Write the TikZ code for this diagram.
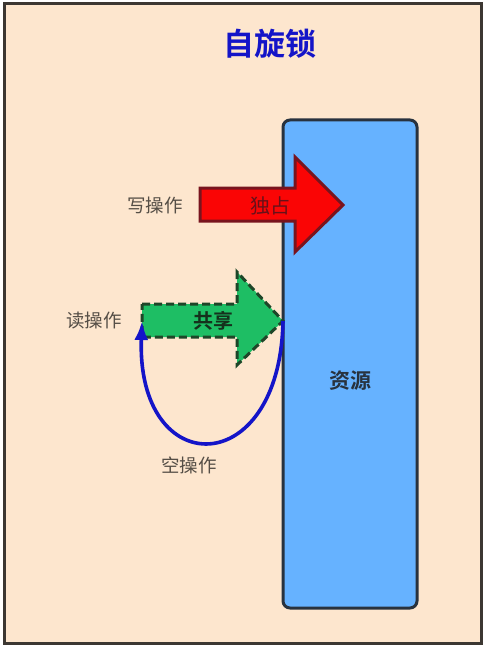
\documentclass[tikz,border=0pt]{standalone}
\usepackage{fontspec}
\newfontfamily\cjk{Noto Sans CJK SC}[BoldFont={Noto Sans CJK SC Bold}]
\usepackage{tikz}
\usetikzlibrary{arrows.meta,positioning,calc}
\definecolor{bgpeach}{RGB}{253,230,206}
\definecolor{framegrey}{RGB}{60,55,50}
\definecolor{resblue}{RGB}{102,178,255}
\definecolor{resedge}{RGB}{40,50,62}
\definecolor{lockred}{RGB}{250,5,5}
\definecolor{redge}{RGB}{120,20,30}
\definecolor{sharegreen}{RGB}{30,190,100}
\definecolor{gedge}{RGB}{30,70,40}
\definecolor{loopblue}{RGB}{20,20,200}
\definecolor{opgrey}{RGB}{85,78,70}

\begin{document}
\begin{tikzpicture}[x=1pt, y=-1pt, every node/.style={font=\cjk\fontsize{18.5}{18.5}\selectfont, inner sep=0pt},
  oplabel/.style={text=opgrey},
  fatarrow/.style={line width=3pt, line join=miter}]
\useasboundingbox (0,0) rectangle (484,647);
% background and frame
\draw[fill=bgpeach, draw=framegrey, line width=3pt] (4,4) rectangle (481,643);
\node[text=loopblue, font=\cjk\bfseries\fontsize{31}{31}\selectfont] (title) at (270,44) {自旋锁};

% resource
\node[draw=resedge, fill=resblue, line width=3pt, rounded corners=7pt, minimum width=134pt, minimum height=488pt] (res) at (350,364) {};
\node[text=resedge, font=\cjk\bfseries\fontsize{21}{21}\selectfont] (reslab) at (350,381) {资源};

% write: exclusive
\coordinate (wtail) at (200,205);
\coordinate (wtip) at (343,205);
\draw[fatarrow, draw=redge, fill=lockred] (200,188) -- (295,188) -- (295,157) -- (wtip) -- (295,252) -- (295,221) -- (200,221) -- cycle;
\node[text=redge!85!black, font=\cjk\fontsize{20}{20}\selectfont] (excl) at (270,206) {独占};
\node[oplabel, left=17pt of wtail] (write) {写操作};

% read: shared
\coordinate (rtail) at (142,321);
\coordinate (rtip) at (283,321);
\draw[fatarrow, dashed, dash pattern=on 8pt off 4pt, draw=gedge, fill=sharegreen] (142,304) -- (237,304) -- (237,272) -- (rtip) -- (237,365) -- (237,337) -- (142,337) -- cycle;
\node[text=gedge!70!black, font=\cjk\bfseries\fontsize{20}{20}\selectfont] (shared) at (213,321) {共享};
\node[oplabel, left=20pt of rtail] (read) {读操作};

% spin loop
\draw[loopblue, line width=3.6pt, -{Latex[length=19pt, width=14pt]}] (rtip) .. controls (280,482) and (136,482) .. (rtail);
\node[oplabel] (noop) at (189,465) {空操作};
\end{tikzpicture}
\end{document}
